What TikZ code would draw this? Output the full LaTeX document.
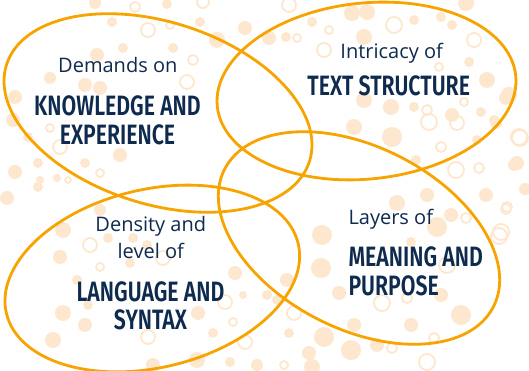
\documentclass[tikz,border=0pt]{standalone}
\usepackage{fontspec}
\setmainfont{Open Sans}
\newfontfamily\headfont[FakeStretch=0.76, BoldFont={Fira Sans SemiBold}]{Fira Sans}
\definecolor{ringorange}{HTML}{F7A400}
\definecolor{navy}{HTML}{0E2A4F}
\definecolor{peach}{HTML}{FDE8CF}
\tikzset{
  ell/.style={draw=ringorange, line width=2.8pt},
  dot/.style={fill=peach},
  ring/.style={draw=peach, line width=1.8pt},
  small/.style={text=navy, font=\fontsize{20}{24}\selectfont, inner sep=0pt},
  head/.style={text=navy, font=\headfont\bfseries\fontsize{28}{30}\selectfont, inner sep=0pt}
}
\begin{document}
\begin{tikzpicture}[x=1pt,y=1pt]
\fill[white] (0,0) rectangle (529,371);
\useasboundingbox (0,0) rectangle (529,371);
% bubbles (image coordinates, y downward)
\begin{scope}[yshift=371pt, yscale=-1]
\foreach \x/\y/\r in {95/3/6,167/4/5,112/22/5,200/22/5,217/40/8,245/28/7,173/48/5,123/48/5,97/55/7,50/78/6,85/85/7,100/88/7,15/97/7,13/120/7,28/137/5,120/155/7,38/163/5,85/163/5,15/172/7,40/180/4,57/178/4,
352/13/8,367/12/8,312/22/5,414/20/5,441/17/5,452/25/5,466/3/8,286/37/5,269/38/7,364/37/8,469/62/5,487/80/8,509/95/8,364/100/8,391/107/8,414/107/5,452/115/7,481/112/5,494/120/5,354/127/8,392/137/10,477/140/5,416/160/5,517/163/7,514/165/6,525/189/6,506/98/7,496/123/6,
38/187/5,7/198/7,100/210/6,63/230/8,108/238/5,133/238/5,147/245/5,60/257/7,130/263/5,77/280/5,235/273/7,243/295/4,63/313/8,88/305/5,198/313/7,85/325/7,53/340/8,213/333/5,197/360/8,153/365/7,230/362/5,257/365/6,
427/195/7,486/195/7,397/203/8,451/215/7,322/235/10,437/227/10,411/242/5,321/268/10,287/280/7,267/295/5,277/300/5,339/293/7,441/295/7,461/315/10,411/325/7,354/325/7,289/333/5,324/337/10,377/345/7,351/350/10,309/353/7,312/367/8}
  \fill[dot] (\x,\y) circle [radius=\r pt];
\foreach \x/\y/\r in {135/7/5,203/2/6,148/30/7,170/25/4,193/60/5,187/82/7,50/128/4,60/147/7,100/173/4,68/180/3,
289/5/7,394/25/8,297/38/4,329/30/4,474/40/7,324/50/7,439/67/4,427/110/5,464/102/4,429/122/8,457/123/7,519/137/8,441/147/5,456/170/8,479/168/5,520/138/8,506/209/5,499/236/8,
90/245/7,100/267/4,163/258/7,225/302/7,233/322/4,148/337/7,245/342/7,
507/207/5,466/218/5,501/232/8,447/265/8,382/303/8,407/298/5,294/313/7,392/348/5,434/338/5,284/365/4,427/362/8}
  \draw[ring] (\x,\y) circle [radius=\r pt];
\end{scope}
% ellipses
\draw[ell, rotate around={-17.7:(158,258)}] (158,258) ellipse [x radius=159pt, y radius=91pt];
\draw[ell, rotate around={5.9:(366.5,280)}] (366.5,280) ellipse [x radius=150pt, y radius=88pt];
\draw[ell, rotate around={-27.1:(359,133)}] (359,133) ellipse [x radius=151pt, y radius=91pt];
\draw[ell, rotate around={13.5:(152.3,92.5)}] (152.3,92.5) ellipse [x radius=150pt, y radius=89pt];
% texts
\node[small, anchor=base] (k1) at (117.8,298.3) {Demands on};
\node[head, anchor=base] (k2) at (117.5,255.3) {KNOWLEDGE AND};
\node[head, anchor=base] (k3) at (117.5,226.7) {EXPERIENCE};
\node[small, anchor=base] (t1) at (391.7,312.7) {Intricacy of};
\node[head, anchor=base] (t2) at (388.7,275) {TEXT STRUCTURE};
\node[small, anchor=base] (l1) at (150.8,139.3) {Density and};
\node[small, anchor=base] (l2) at (150.8,112.7) {level of};
\node[head, anchor=base] (l3) at (150.5,69.3) {LANGUAGE AND};
\node[head, anchor=base] (l4) at (150.5,41) {SYNTAX};
\node[small, anchor=base west] (m1) at (348.3,146) {Layers of};
\node[head, anchor=base west] (m2) at (348.3,104.3) {MEANING AND};
\node[head, anchor=base west] (m3) at (348.3,75) {PURPOSE};
\end{tikzpicture}
\end{document}
